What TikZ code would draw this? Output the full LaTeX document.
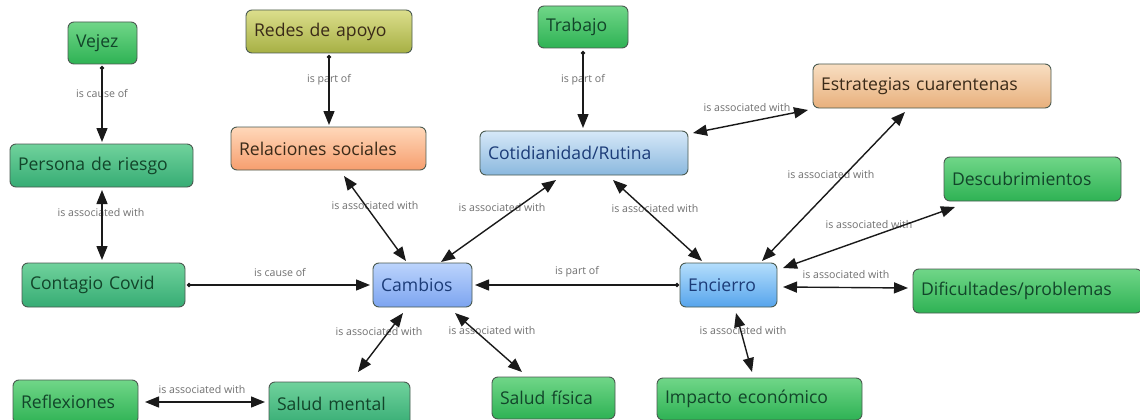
\documentclass[tikz,border=0pt]{standalone}
\usepackage{fontspec}
\setmainfont{Open Sans}
\usetikzlibrary{arrows.meta,calc}

\definecolor{edgeink}{HTML}{1A1A1A}
\definecolor{labink}{HTML}{707070}
\definecolor{boxline}{HTML}{4A5A50}
\definecolor{greenink}{HTML}{12452A}
\definecolor{blueink}{HTML}{1C3C78}
\definecolor{warmink}{HTML}{3A2A18}

\tikzset{
  x=1pt, y=-1pt,
  concept/.style={draw=boxline, line width=0.9pt, rounded corners=6pt,
    inner xsep=8pt, inner ysep=0pt, align=left,
    font=\fontsize{17.6}{19}\selectfont},
  leaf/.style={concept, top color={rgb,255:red,112;green,214;blue,136}, bottom color={rgb,255:red,46;green,178;blue,84}, text=greenink},
  teal/.style={concept, top color={rgb,255:red,112;green,210;blue,156}, bottom color={rgb,255:red,54;green,172;blue,116}, text=greenink},
  olive/.style={concept, top color={rgb,255:red,220;green,222;blue,140}, bottom color={rgb,255:red,166;green,176;blue,68}, text=warmink},
  salmon/.style={concept, top color={rgb,255:red,255;green,216;blue,186}, bottom color={rgb,255:red,246;green,158;blue,110}, text=warmink},
  tan/.style={concept, top color={rgb,255:red,248;green,222;blue,194}, bottom color={rgb,255:red,232;green,176;blue,124}, text=warmink},
  pale/.style={concept, top color={rgb,255:red,214;green,232;blue,248}, bottom color={rgb,255:red,138;green,184;blue,222}, text=blueink},
  sky/.style={concept, top color={rgb,255:red,188;green,212;blue,252}, bottom color={rgb,255:red,124;green,164;blue,240}, text=blueink},
  azure/.style={concept, top color={rgb,255:red,180;green,222;blue,252}, bottom color={rgb,255:red,86;green,164;blue,236}, text=blueink},
  sz/.style 2 args={text width=#1pt-16pt, minimum height=#2pt},
  link/.style={draw=edgeink, line width=1.4pt},
  tip/.tip={Triangle[length=14pt,width=11pt]},
  oneway/.style={link, {Circle[length=4pt]}-tip},
  twoway/.style={link, tip-tip},
  lab/.style={text=labink, font=\fontsize{10.6}{12}\selectfont, inner sep=0pt},
}

\begin{document}
\begin{tikzpicture}
\useasboundingbox (0,0) rectangle (1140,420);
\fill[white] (0,0) rectangle (1140,420);

% concepts
\node[leaf,   sz={69}{42}]  (vej)   at (102.5,43)   {Vejez};
\node[olive,  sz={166}{43}] (redes) at (329,31.5)   {Redes de apoyo};
\node[leaf,   sz={90}{42}]  (trab)  at (583,27)     {Trabajo};
\node[tan,    sz={238}{44}] (estr)  at (932,86)     {Estrategias cuarentenas};
\node[teal,   sz={183}{43}] (pers)  at (101.5,165.5){Persona de riesgo};
\node[salmon, sz={195}{43}] (rel)   at (328.5,148.5){Relaciones sociales};
\node[pale,   sz={208}{44}] (cot)   at (584,153)    {Cotidianidad/Rutina};
\node[leaf,   sz={177}{44}] (desc)  at (1032.5,179) {Descubrimientos};
\node[teal,   sz={163}{44}] (cont)  at (103.5,285)  {Contagio Covid};
\node[sky,    sz={99}{44}]  (camb)  at (422.5,285)  {Cambios};
\node[azure,  sz={97}{44}]  (enc)   at (728.5,285)  {Encierro};
\node[leaf,   sz={229}{44}] (dif)   at (1027.5,291) {Dificultades/problemas};
\node[leaf,   sz={125}{44}] (refl)  at (75.5,402)   {Reflexiones};
\node[teal,   sz={141}{44}] (salm)  at (339.5,404)  {Salud mental};
\node[leaf,   sz={123}{42}] (salf)  at (553.5,398)  {Salud física};
\node[leaf,   sz={205}{42}] (imp)   at (759.5,399)  {Impacto económico};

% link labels (the connectors run over them)
\node[lab] (l1)  at (102,93)  {is cause of};
\node[lab] (l2)  at (329,80)  {is part of};
\node[lab] (l3)  at (583,80)  {is part of};
\node[lab] (l4)  at (101,213) {is associated with};
\node[lab] (l5)  at (280,272) {is cause of};
\node[lab] (l6)  at (577,272) {is part of};
\node[lab] (l7)  at (375,206) {is associated with};
\node[lab] (l8)  at (502,208) {is associated with};
\node[lab] (l9)  at (655,209) {is associated with};
\node[lab] (l10) at (747,108) {is associated with};
\node[lab] (l11) at (831,175) {is associated with};
\node[lab] (l12) at (869,225) {is associated with};
\node[lab] (l13) at (846,275) {is associated with};
\node[lab] (l14) at (743,331) {is associated with};
\node[lab] (l15) at (379,332) {is associated with};
\node[lab] (l16) at (492,331) {is associated with};
\node[lab] (l17) at (202,390) {is associated with};

% connectors
\draw[oneway] ($(vej)+(-0.5,23)$)   -- ($(pers)+(0.5,-23.5)$);
\draw[oneway] ($(redes)+(0,23.5)$)  -- ($(rel)+(0.5,-23.5)$);
\draw[oneway] ($(trab)+(0,24)$)     -- ($(cot)+(-1,-25)$);
\draw[twoway] ($(pers)+(0.5,24.5)$) -- ($(cont)+(-1.5,-25)$);
\draw[oneway] ($(cont)+(83.5,0)$)   -- ($(camb)+(-52.5,0)$);
\draw[oneway] ($(enc)+(-49.5,0)$)   -- ($(camb)+(52.5,0)$);
\draw[twoway] ($(rel)+(15.5,27.5)$) -- ($(camb)+(-16.5,-24)$);
\draw[twoway] ($(cot)+(-28,27)$)    -- ($(camb)+(18.5,-23)$);
\draw[twoway] ($(cot)+(29,27)$)     -- ($(enc)+(-26.5,-24)$);
\draw[twoway] ($(cot)+(109,-20)$)   -- ($(estr)+(-124,24)$);
\draw[twoway] ($(enc)+(33.5,-24)$)  -- ($(estr)+(-27,26)$);
\draw[twoway] ($(enc)+(54.5,-17)$)  -- ($(desc)+(-77.5,28)$);
\draw[twoway] ($(enc)+(54.5,2)$)    -- ($(dif)+(-119.5,-3)$);
\draw[twoway] ($(enc)+(7.5,28)$)    -- ($(imp)+(-7.5,-27)$);
\draw[twoway] ($(camb)+(-19.5,28)$) -- ($(salm)+(18.5,-32)$);
\draw[twoway] ($(camb)+(32.5,28)$)  -- ($(salf)+(-31.5,-26)$);
\draw[twoway] ($(refl)+(69.5,0)$)   -- ($(salm)+(-74.5,-2)$);
\end{tikzpicture}
\end{document}
